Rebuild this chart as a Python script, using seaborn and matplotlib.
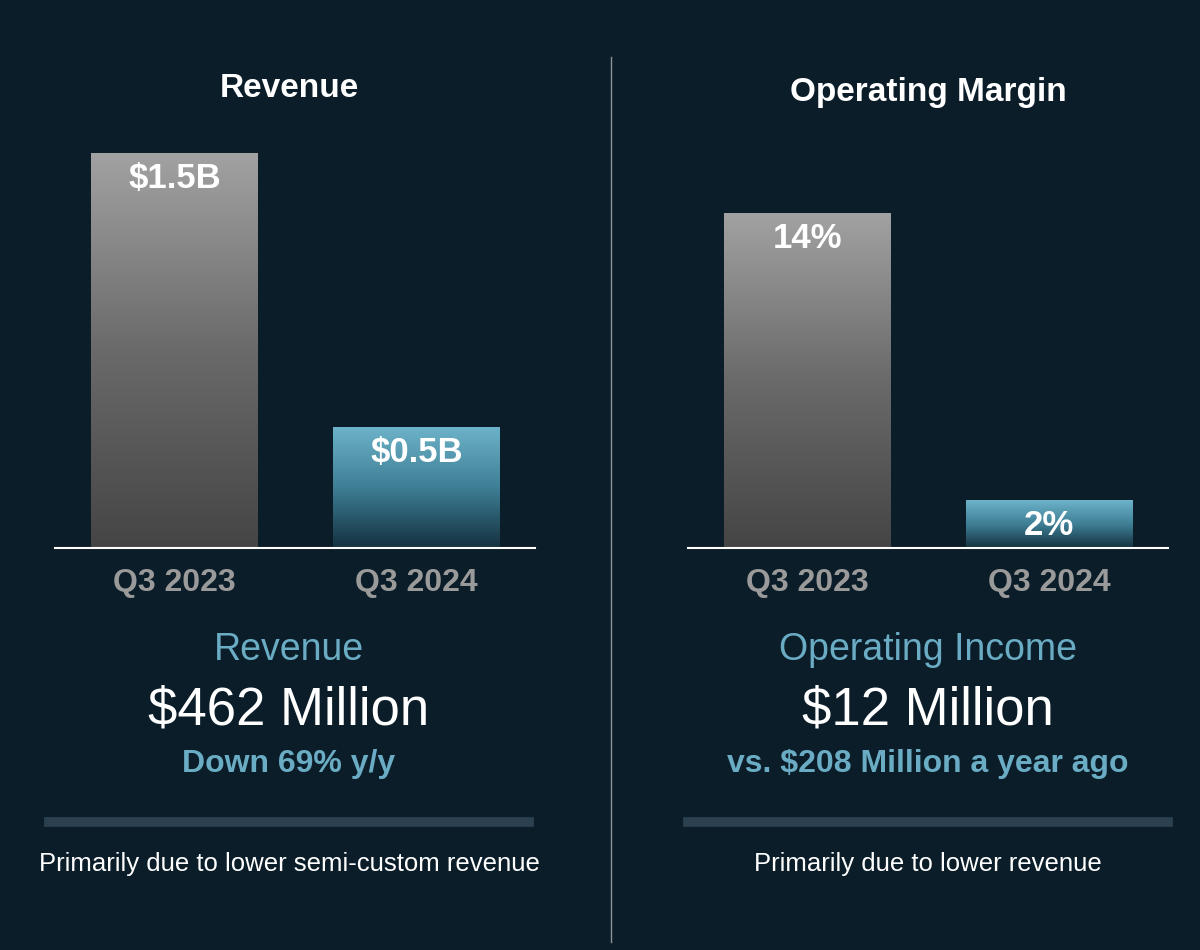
import matplotlib.pyplot as plt
import numpy as np
import pandas as pd
import seaborn as sns
from matplotlib.colors import LinearSegmentedColormap


def plot_panel(ax, dataframe: pd.DataFrame, ymax: float, cmaps) -> None:
    """
    Bar plot of one metric with gradient bars
    Args:
        ax: axes to draw on
        dataframe (pd.DataFrame): quarter, value and label columns
        ymax (float): top of the y axis
        cmaps (list): colormap per bar
    """
    sns.barplot(data=dataframe, x="quarter", y="value", ax=ax, width=0.69,
                color="#000000", saturation=1)
    ax.set_xlim(-0.494, 1.49)
    ax.set_ylim(0, ymax)
    grad = np.linspace(0, 1, 256).reshape(-1, 1)
    for patch, cmap, label in zip(ax.patches, cmaps, dataframe["label"]):
        x0, y0 = patch.get_x(), patch.get_y()
        w, h = patch.get_width(), patch.get_height()
        im = ax.imshow(grad, cmap=cmap, extent=[x0, x0 + w, y0, y0 + h],
                       aspect="auto", origin="lower", zorder=2)
        im.set_clip_path(patch)
        patch.set_alpha(0)
        ax.text(x0 + w / 2, h - ymax * 0.02, label, ha="center", va="top",
                color="white", fontsize=25, fontweight="bold", zorder=3)
    ax.set_xlabel("")
    ax.set_ylabel("")
    ax.set_yticks([])
    for side in ["top", "right", "left"]:
        ax.spines[side].set_visible(False)
    ax.spines["bottom"].set_color("white")
    ax.spines["bottom"].set_linewidth(1.5)
    ax.tick_params(axis="x", length=0, pad=14, labelsize=23, colors="#9a9a9a")
    for t in ax.get_xticklabels():
        t.set_fontweight("bold")
    ax.set_facecolor("none")


bg = "#0b1d28"
plt.rcParams["font.family"] = ["Liberation Sans", "DejaVu Sans"]
gray = LinearSegmentedColormap.from_list("gray", ["#454545", "#6a6a6a", "#a2a2a2"])
blue = LinearSegmentedColormap.from_list("blue", ["#14313f", "#3f7f96", "#6db3c9"])

revenue = pd.DataFrame({"quarter": ["Q3 2023", "Q3 2024"],
                        "value": [1.506, 0.462],
                        "label": ["$1.5B", "$0.5B"]})
margin = pd.DataFrame({"quarter": ["Q3 2023", "Q3 2024"],
                       "value": [14, 2],
                       "label": ["14%", "2%"]})

fig = plt.figure(figsize=(12, 9.5), dpi=100, facecolor=bg)
ax1 = fig.add_axes([0.046, 0.423, 0.4, 0.4716])
ax2 = fig.add_axes([0.573, 0.423, 0.4, 0.4716])
plot_panel(ax1, revenue, 1.708, [gray, blue])
plot_panel(ax2, margin, 18.72, [gray, blue])

# titles
fig.text(0.2408, 0.907, "Revenue", ha="center", va="center", color="white",
         fontsize=24, fontweight="bold")
fig.text(0.7733, 0.903, "Operating Margin", ha="center", va="center", color="white",
         fontsize=24, fontweight="bold")
# divider
fig.add_artist(plt.Line2D([0.5092, 0.5092], [0.008, 0.94], color="#8a949a", lw=1))

# summary text
for cx, name, big, sub, note in [
    (0.2408, "Revenue", "$462 Million", "Down 69% y/y",
     "Primarily due to lower semi-custom revenue"),
    (0.7733, "Operating Income", "$12 Million", "vs. $208 Million a year ago",
     "Primarily due to lower revenue"),
]:
    fig.text(cx, 0.316, name, ha="center", va="center", color="#6aacc4", fontsize=27)
    fig.text(cx, 0.252, big, ha="center", va="center", color="white", fontsize=38)
    fig.text(cx, 0.196, sub, ha="center", va="center", color="#6aacc4",
             fontsize=23, fontweight="bold")
    fig.add_artist(plt.Line2D([cx - 0.2, cx + 0.2], [0.135, 0.135],
                              color="#2c4150", lw=7))
    fig.text(cx, 0.091, note, ha="center", va="center", color="white", fontsize=18.5)

plt.savefig("out.png", facecolor=bg)
